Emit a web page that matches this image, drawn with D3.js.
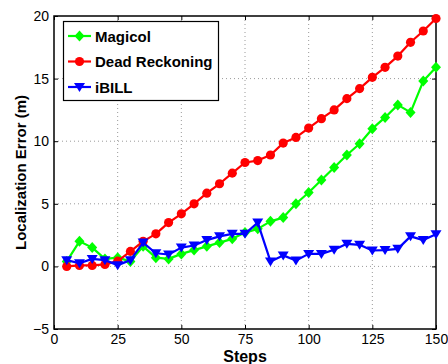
<!DOCTYPE html>
<html>
<head>
<meta charset="utf-8">
<script src="https://cdn.jsdelivr.net/npm/d3@7"></script>
<style>
body { margin: 0; background: #fff; }
svg { display: block; font-family: "Liberation Sans", Arial, sans-serif; }
</style>
</head>
<body>
<svg id="chart" width="448" height="364"></svg>
<script>
// data
var steps = [5,10,15,20,25,30,35,40,45,50,55,60,65,70,75,80,85,90,95,100,105,110,115,120,125,130,135,140,145,150];
var magicol = [0.4,2.0,1.5,0.6,0.7,0.4,1.6,0.7,0.6,1.0,1.3,1.6,1.9,2.2,2.7,3.0,3.6,3.9,5.0,5.9,6.9,7.9,8.9,9.8,11.0,11.9,12.9,12.3,14.8,15.9];
var deadReckoning = [0,0.08,0.08,0.16,0.42,1.2,2.0,2.6,3.5,4.2,5.0,5.85,6.6,7.45,8.3,8.45,8.9,9.85,10.3,11.05,11.8,12.5,13.4,14.2,15.1,15.9,16.8,17.9,18.8,19.8];
var ibill = [0.5,0.25,0.6,0.5,0.1,0.5,1.9,1.05,0.95,1.5,1.67,2.1,2.4,2.6,2.6,3.5,0.4,0.88,0.47,1.0,1.0,1.33,1.8,1.72,1.27,1.3,1.4,2.4,2.1,2.57];

var xTicks = [0,25,50,75,100,125,150];
var yTicks = [-5,0,5,10,15,20];

var series = [
    {name: "Magicol", values: magicol, color: "#00ff00", marker: "diamond"},
    {name: "Dead Reckoning", values: deadReckoning, color: "#ff0000", marker: "circle"},
    {name: "iBILL", values: ibill, color: "#0000ff", marker: "triangle"}
];

var plotLeft = 54, plotRight = 436, plotTop = 16, plotBottom = 329;

var svg = d3.select('#chart');

var x = d3.scaleLinear().domain([0, 150]).range([plotLeft, plotRight]);
var y = d3.scaleLinear().domain([-5, 20]).range([plotBottom, plotTop]);

// marker shapes
function markerPath(type) {
    if (type == "circle") return d3.symbol().type(d3.symbolCircle).size(66)();
    if (type == "diamond") return "M0,-5.5L5,0L0,5.5L-5,0Z";
    return "M-5.5,-4L5.5,-4L0,5Z";
}

// grid
var grid = svg.append('g');
grid.selectAll('.gx')
    .data(xTicks.slice(1, -1))
    .enter()
    .append('line')
    .attr('x1', function(d){ return x(d); })
    .attr('x2', function(d){ return x(d); })
    .attr('y1', plotTop).attr('y2', plotBottom)
    .attr('stroke', '#9a9a9a').attr('stroke-width', 1)
    .attr('stroke-dasharray', '1,3');
grid.selectAll('.gy')
    .data(yTicks.slice(1, -1))
    .enter()
    .append('line')
    .attr('y1', function(d){ return y(d); })
    .attr('y2', function(d){ return y(d); })
    .attr('x1', plotLeft).attr('x2', plotRight)
    .attr('stroke', '#9a9a9a').attr('stroke-width', 1)
    .attr('stroke-dasharray', '1,3');

// axes with inward ticks
var xAxis = d3.axisBottom(x).tickValues(xTicks).tickSizeInner(-4).tickSizeOuter(0).tickPadding(5);
var yAxis = d3.axisLeft(y).tickValues(yTicks).tickSizeInner(-4).tickSizeOuter(0).tickPadding(5)
    .tickFormat(function(d){ return d < 0 ? "\u2212" + (-d) : d; });

svg.append('g').attr('transform', 'translate(0,' + plotBottom + ')').call(xAxis);
svg.append('g').attr('transform', 'translate(' + plotLeft + ',0)').call(yAxis);
svg.append('g').attr('transform', 'translate(0,' + plotTop + ')')
    .call(d3.axisTop(x).tickValues(xTicks).tickSizeInner(-4).tickSizeOuter(0).tickFormat(''));
svg.append('g').attr('transform', 'translate(' + plotRight + ',0)')
    .call(d3.axisRight(y).tickValues(yTicks).tickSizeInner(-4).tickSizeOuter(0).tickFormat(''));

svg.selectAll('.domain').remove();
svg.selectAll('.tick line').attr('stroke', '#000');
svg.selectAll('.tick text').attr('font-size', 14).attr('fill', '#000')
    .attr('font-family', '"Liberation Sans", Arial, sans-serif');

// frame
svg.append('rect')
    .attr('x', plotLeft).attr('y', plotTop)
    .attr('width', plotRight - plotLeft).attr('height', plotBottom - plotTop)
    .attr('fill', 'none').attr('stroke', '#000').attr('stroke-width', 1.5);

// lines and markers
var line = d3.line()
    .x(function(d, i){ return x(steps[i]); })
    .y(function(d){ return y(d); });

series.forEach(function(s) {
    svg.append('path')
        .attr('d', line(s.values))
        .attr('fill', 'none')
        .attr('stroke', s.color)
        .attr('stroke-width', 2.2)
        .attr('stroke-linejoin', 'round');
    svg.append('g').selectAll('path')
        .data(s.values)
        .enter()
        .append('path')
        .attr('d', markerPath(s.marker))
        .attr('fill', s.color)
        .attr('transform', function(d, i){
            return 'translate(' + x(steps[i]) + ',' + y(d) + ')';
        });
});

// legend
var legend = svg.append('g');
legend.append('rect')
    .attr('x', 63.5).attr('y', 21.5)
    .attr('width', 155).attr('height', 79)
    .attr('fill', '#fff').attr('stroke', '#000').attr('stroke-width', 1.2);
series.forEach(function(s, i) {
    var ly = 36 + i * 25.5;
    legend.append('line')
        .attr('x1', 68).attr('x2', 91)
        .attr('y1', ly).attr('y2', ly)
        .attr('stroke', s.color).attr('stroke-width', 2.2);
    legend.append('path')
        .attr('d', markerPath(s.marker))
        .attr('fill', s.color)
        .attr('transform', 'translate(79.5,' + ly + ')');
    legend.append('text')
        .attr('x', 95).attr('y', ly + 5.5)
        .attr('font-size', 15).attr('font-weight', 'bold')
        .text(s.name);
});

// axis titles
svg.append('text')
    .attr('x', 245).attr('y', 362)
    .attr('text-anchor', 'middle')
    .attr('font-size', 16).attr('font-weight', 'bold')
    .text('Steps');
svg.append('text')
    .attr('transform', 'translate(26,172.5) rotate(-90)')
    .attr('text-anchor', 'middle')
    .attr('font-size', 15).attr('font-weight', 'bold')
    .text('Localization Error (m)');
</script>
</body>
</html>
